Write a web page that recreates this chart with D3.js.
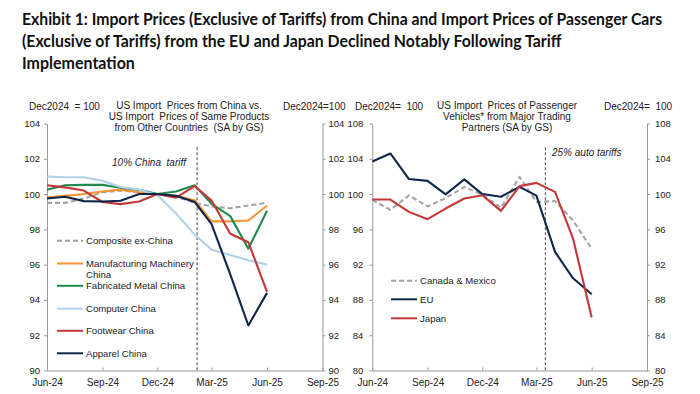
<!DOCTYPE html>
<html lang="en">
<head>
<meta charset="utf-8">
<title>Import Prices Following Tariff Implementation</title>
<script src="https://d3js.org/d3.v7.min.js"></script>
<style>
  body { margin: 0; background: #fff; }
  svg text { font-family: "Liberation Sans", Arial, sans-serif; fill: #222; white-space: pre; }
  .title { font-family: Lato, "Open Sans", sans-serif; font-weight: bold; font-size: 17.5px; fill: #111; }
  .axis path, .axis line { stroke: #9a9a9a; }
  .axis text { font-size: 10px; fill: #222; }
  .axis.yaxis text { font-size: 9.5px; }
  .head { font-size: 10px; }
  .series { fill: none; stroke-width: 2.1; stroke-linejoin: round; }
  .tariffLine { stroke: #666; stroke-width: 1.2; stroke-dasharray: 3, 2; }
  .note { font-style: italic; font-size: 10px; }
  .legend text { font-size: 9.6px; }
</style>
</head>
<body>
<div id="chart"></div>
<script>
// monthly observations, Dec2024 = 100
const months = ["2024-06", "2024-07", "2024-08", "2024-09", "2024-10", "2024-11", "2024-12",
                "2025-01", "2025-02", "2025-03", "2025-04", "2025-05", "2025-06"];

// left panel: US import prices from China vs other countries
const compositeExChina = [99.5, 99.5, 99.75, 100.1, 100.2, 100.1, 100.0, 99.85, 99.5, 99.3, 99.2, 99.35, 99.5];
const machineryChina   = [99.8, 99.9, 100.0, 100.15, 100.25, 100.1, 100.0, 99.9, 99.65, 98.45, 98.45, 98.5, 99.35];
const metalChina       = [100.25, 100.5, 100.52, 100.52, 100.36, 100.24, 100.0, 100.15, 100.5, 99.45, 98.75, 96.9, 99.05];
const computerChina    = [101.0, 100.95, 100.95, 100.75, 100.4, 100.25, 99.95, 98.9, 97.7, 96.85, 96.55, 96.25, 96.0];
const footwearChina    = [100.5, 100.38, 100.2, 99.55, 99.43, 99.58, 100.0, 99.8, 100.45, 99.63, 97.75, 97.27, 94.45];
const apparelChina     = [99.75, 99.85, 99.6, 99.58, 99.62, 100.0, 100.0, 99.9, 99.55, 98.3, 95.45, 92.55, 94.4];

// right panel: passenger vehicles
const canadaMexico = [99.35, 98.2, 99.85, 98.6, 99.55, 100.8, 99.95, 98.45, 101.95, 99.1, 99.2, 97.0, 93.8];
const euCars       = [103.7, 104.6, 101.7, 101.5, 99.97, 101.67, 100.0, 99.7, 100.82, 99.82, 93.45, 90.45, 88.65];
const japanCars    = [99.38, 99.38, 97.98, 97.15, 98.36, 99.5, 99.87, 98.1, 100.9, 101.27, 100.25, 94.96, 86.0];

// axis ticks
const xTickMonths = ["2024-06", "2024-09", "2024-12", "2025-03", "2025-06", "2025-09"];
const leftTicks = [90, 92, 94, 96, 98, 100, 102, 104];
const rightTicks = [80, 84, 88, 92, 96, 100, 104, 108];

const titleLines = [
    "Exhibit 1: Import Prices (Exclusive of Tariffs) from China and Import Prices of Passenger Cars",
    "(Exclusive of Tariffs) from the EU and Japan Declined Notably Following Tariff",
    "Implementation"
];

const w = 700, h = 394;
const parseMonth = d3.utcParse("%Y-%m");
const parseDay = d3.utcParse("%Y-%m-%d");
const dates = months.map(parseMonth);

const svg = d3.select("#chart").append("svg")
    .attr("width", w)
    .attr("height", h);

// title, narrowed to the widths of the original
const titleWidths = [641, 540, 113];
titleLines.forEach((t, i) => {
    const txt = svg.append("text")
        .attr("class", "title")
        .attr("x", 0)
        .attr("y", 0)
        .text(t);
    const k = Math.min(1, titleWidths[i] / txt.node().getComputedTextLength());
    txt.attr("transform", `translate(22, ${25 + i * 22}) scale(${k}, 1)`);
});

const panels = [
    {
        left: 47, right: 322.5, domain: [90, 104], ticks: leftTicks, padL: 4, padR: 3,
        series: [
            { name: "Composite ex-China", values: compositeExChina, color: "#a3a3a3", dash: "5,3" },
            { name: "Manufacturing Machinery|China", values: machineryChina, color: "#f79433" },
            { name: "Fabricated Metal China", values: metalChina, color: "#1f8a4c" },
            { name: "Computer China", values: computerChina, color: "#b3d1e8" },
            { name: "Footwear China", values: footwearChina, color: "#c4373a" },
            { name: "Apparel China", values: apparelChina, color: "#10264a" }
        ],
        legendX: 57, legendY: [240.7, 263.5, 285.8, 308.7, 330.8, 353.3],
        tariffDate: "2025-02-05", tariffTop: 102.65,
        note: "10% China  tariff", noteX: 186, noteY: 166, noteAnchor: "end",
        headLeft: { text: "Dec2024  = 100", x: 29 },
        headRight: { text: "Dec2024=100", x: 283 },
        titleX: 189,
        titleLines: ["US Import  Prices from China vs.", "US Import  Prices of Same Products", "from Other Countries  (SA by GS)"]
    },
    {
        left: 372.3, right: 647, domain: [80, 108], ticks: rightTicks, padL: 6, padR: 5,
        series: [
            { name: "Canada & Mexico", values: canadaMexico, color: "#a3a3a3", dash: "5,3" },
            { name: "EU", values: euCars, color: "#10264a" },
            { name: "Japan", values: japanCars, color: "#c4373a" }
        ],
        legendX: 391, legendY: [280.7, 299.3, 318.3],
        tariffDate: "2025-03-16", tariffTop: 105.3,
        note: "25% auto tariffs", noteX: 552, noteY: 156, noteAnchor: "start",
        headLeft: { text: "Dec2024=  100", x: 355 },
        headRight: { text: "Dec2024=  100", x: 604 },
        titleX: 507,
        titleLines: ["US Import  Prices of Passenger", "Vehicles* from Major Trading", "Partners (SA by GS)"]
    }
];

panels.forEach(p => {
    const xScale = d3.scaleUtc()
        .domain([parseMonth("2024-06"), parseMonth("2025-09")])
        .range([p.left, p.right]);
    const yScale = d3.scaleLinear()
        .domain(p.domain)
        .range([370.5, 123.5]);

    //axes
    svg.append("g")
        .attr("class", "axis yaxis")
        .attr("transform", `translate(${p.left}, 0)`)
        .call(d3.axisLeft(yScale).tickValues(p.ticks).tickSize(3).tickSizeOuter(0).tickPadding(p.padL));

    svg.append("g")
        .attr("class", "axis yaxis")
        .attr("transform", `translate(${p.right}, 0)`)
        .call(d3.axisRight(yScale).tickValues(p.ticks).tickSize(3).tickSizeOuter(0).tickPadding(p.padR));

    svg.append("g")
        .attr("class", "axis")
        .attr("transform", `translate(0, ${yScale(p.domain[0])})`)
        .call(d3.axisBottom(xScale)
            .tickValues(xTickMonths.map(parseMonth))
            .tickFormat(d3.utcFormat("%b-%y"))
            .tickSizeInner(-3).tickSizeOuter(0).tickPadding(8));

    //tariff marker
    const tx = xScale(parseDay(p.tariffDate));
    svg.append("line")
        .attr("class", "tariffLine")
        .attr("x1", tx).attr("x2", tx)
        .attr("y1", yScale(p.tariffTop)).attr("y2", yScale(p.domain[0]));

    svg.append("text")
        .attr("class", "note")
        .attr("x", p.noteX)
        .attr("y", p.noteY)
        .attr("text-anchor", p.noteAnchor)
        .text(p.note);

    //headers
    svg.append("text").attr("class", "head").attr("x", p.headLeft.x).attr("y", 110).text(p.headLeft.text);
    svg.append("text").attr("class", "head").attr("x", p.headRight.x).attr("y", 110).text(p.headRight.text);
    p.titleLines.forEach((t, i) => {
        svg.append("text")
            .attr("class", "head")
            .attr("x", p.titleX)
            .attr("y", 109 + i * 11)
            .attr("text-anchor", "middle")
            .text(t);
    });

    //series
    const line = d3.line()
        .x((d, i) => xScale(dates[i]))
        .y(d => yScale(d));

    svg.selectAll(null)
        .data(p.series)
        .enter()
        .append("path")
        .attr("class", "series")
        .attr("d", d => line(d.values))
        .attr("stroke", d => d.color)
        .attr("stroke-dasharray", d => d.dash || null);

    //legend
    const legend = svg.append("g").attr("class", "legend");
    p.series.forEach((s, i) => {
        const ly = p.legendY[i];
        legend.append("line")
            .attr("x1", p.legendX).attr("x2", p.legendX + 26)
            .attr("y1", ly).attr("y2", ly)
            .attr("stroke", s.color)
            .attr("stroke-width", 2)
            .attr("stroke-dasharray", s.dash || null);
        s.name.split("|").forEach((part, j) => {
            legend.append("text")
                .attr("x", p.legendX + 29)
                .attr("y", ly + 3.5 + j * 10.5)
                .text(part);
        });
    });
});
</script>
</body>
</html>
